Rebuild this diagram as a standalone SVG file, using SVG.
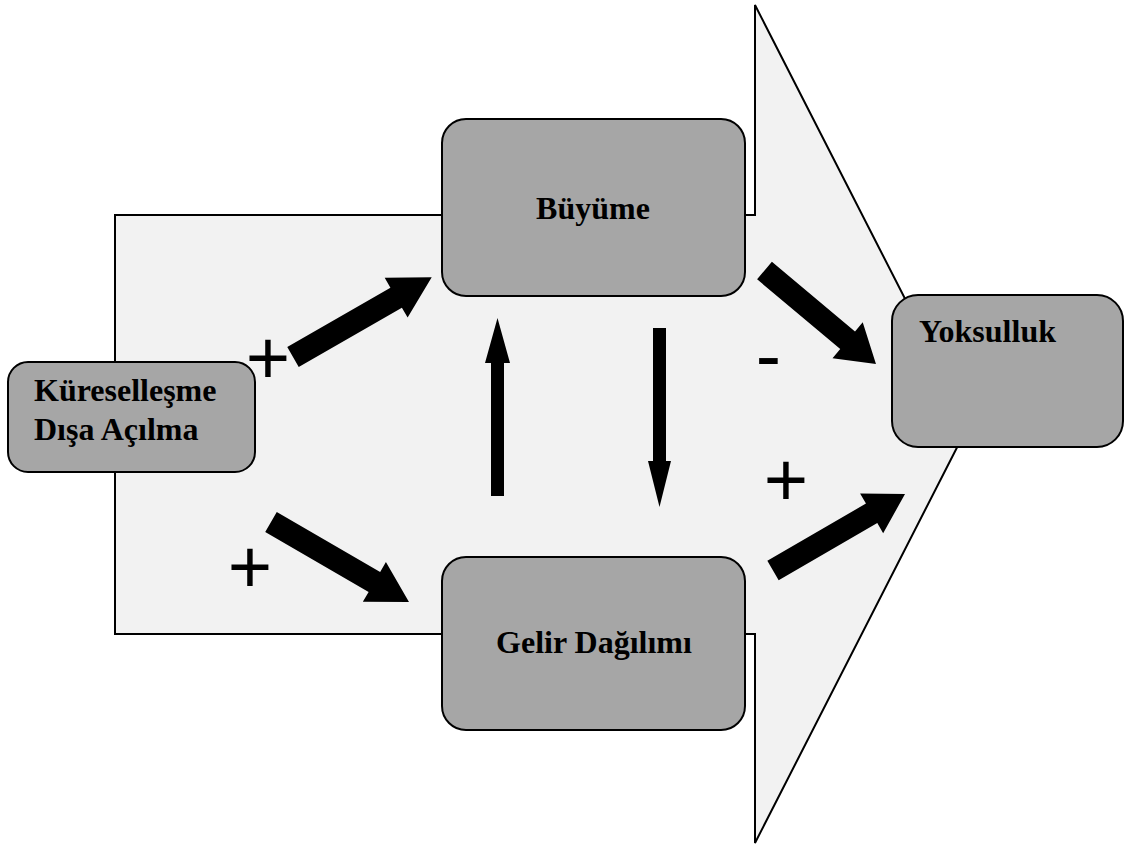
<svg xmlns="http://www.w3.org/2000/svg" width="1125" height="847" viewBox="0 0 1125 847">
<style>
.box{fill:#a6a6a6;stroke:#000;stroke-width:2}
.lbl{font-family:"Liberation Serif","Times New Roman",serif;font-weight:bold;font-size:32px;fill:#000}
.sign{font-family:"Liberation Sans",Arial,sans-serif;font-size:76px;fill:#000;text-anchor:middle}
.blk{fill:#000}
</style>
<rect width="1125" height="847" fill="#fff"/>
<g id="background-arrow">
<polygon points="115,215 755,215 755,5 969,424 755,843 755,634 115,634" fill="#f2f2f2" stroke="#000" stroke-width="2"/>
</g>
<g id="buyume">
<rect class="box" x="442" y="119" width="303" height="177" rx="24"/>
<text class="lbl" x="593" y="219" text-anchor="middle">Büyüme</text>
</g>
<g id="gelir">
<rect class="box" x="442" y="557" width="303" height="173" rx="24"/>
<text class="lbl" x="594" y="653" text-anchor="middle">Gelir Dağılımı</text>
</g>
<g id="yoksulluk">
<rect class="box" x="892" y="295" width="231" height="152" rx="26"/>
<text class="lbl" x="919" y="342">Yoksulluk</text>
</g>
<g id="kuresellesme">
<rect class="box" x="8" y="362" width="247" height="110" rx="20"/>
<text class="lbl" x="34" y="401">Küreselleşme</text>
<text class="lbl" x="34" y="440">Dışa Açılma</text>
</g>
<g id="connectors">
<path class="blk" transform="translate(293,357) rotate(-29.9)" d="M0,-11.5 L119,-11.5 L119,-23 L160,0 L119,23 L119,11.5 L0,11.5Z"/>
<path class="blk" transform="translate(271,522) rotate(30.1)" d="M0,-11.5 L119.5,-11.5 L119.5,-23 L159.5,0 L119.5,23 L119.5,11.5 L0,11.5Z"/>
<polygon class="blk" points="491,496 491,363 485,363 497.5,318 510,363 504,363 504,496"/>
<polygon class="blk" points="653,328 666,328 666,461 671,461 659.5,507 648,461 653,461"/>
<path class="blk" transform="translate(764.5,270.5) rotate(40)" d="M0,-11.5 L108.5,-11.5 L108.5,-23.5 L145.5,0 L108.5,23.5 L108.5,11.5 L0,11.5Z"/>
<path class="blk" transform="translate(773,570.5) rotate(-30.1)" d="M0,-11.3 L114,-11.3 L114,-23 L152.6,0 L114,23 L114,11.3 L0,11.3Z"/>
</g>
<g id="signs">
<text class="sign" x="268" y="384">+</text>
<text class="sign" x="250" y="593">+</text>
<text class="sign" x="768.5" y="381">-</text>
<text class="sign" x="786" y="506">+</text>
</g>
</svg>
